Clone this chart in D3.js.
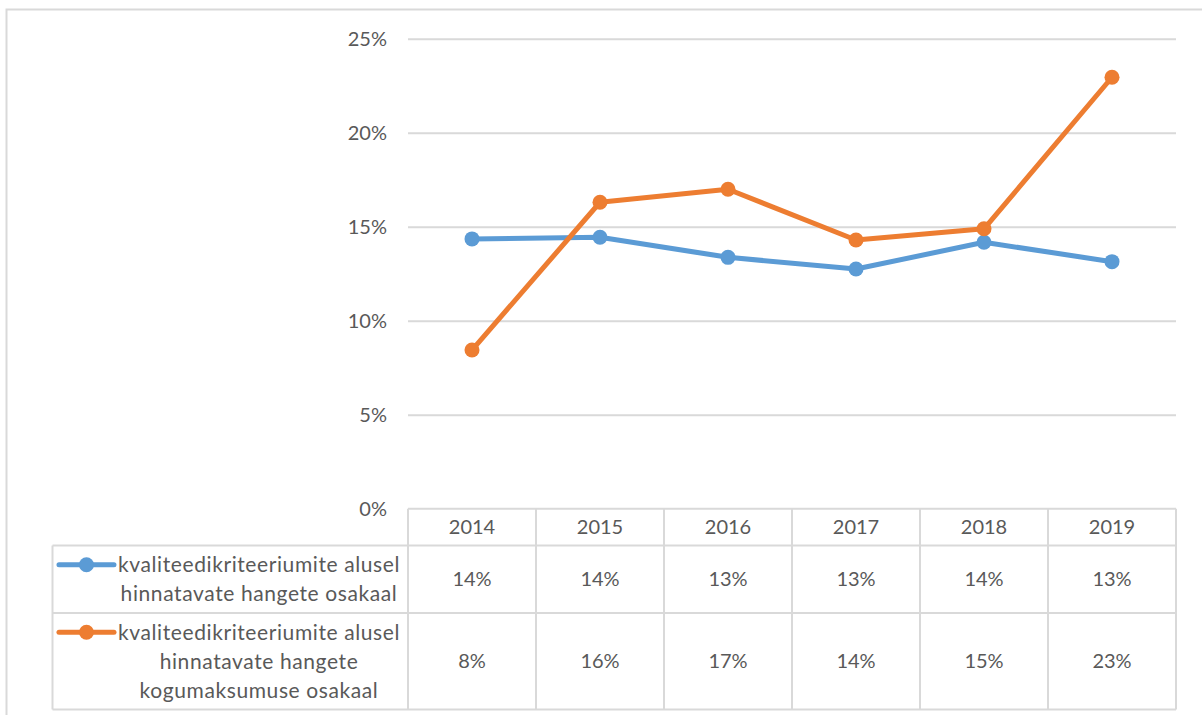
<!DOCTYPE html>
<html>
<head>
<meta charset="utf-8">
<script src="https://cdn.jsdelivr.net/npm/d3@7"></script>
<style>
  html, body { margin: 0; padding: 0; background: #fff; }
  svg { display: block; }
  text { font-family: Lato, "Open Sans", sans-serif; fill: #595959; }
</style>
</head>
<body>
<svg id="chart" width="1202" height="715"></svg>
<script>
// Years shown along the category axis and in the data table header
const years = ["2014", "2015", "2016", "2017", "2018", "2019"];

// Share of procurements evaluated on quality criteria
const shareByCount = [0.1435, 0.1444, 0.1337, 0.1275, 0.1417, 0.1314];
// Share of total procurement value evaluated on quality criteria
const shareByValue = [0.0844, 0.1630, 0.1699, 0.1429, 0.1489, 0.2295];

// Legend labels, one entry per wrapped line
const countLabel = ["kvaliteedikriteeriumite alusel", "hinnatavate hangete osakaal"];
const valueLabel = ["kvaliteedikriteeriumite alusel", "hinnatavate hangete", "kogumaksumuse osakaal"];

const yTicks = [0, 0.05, 0.10, 0.15, 0.20, 0.25];

const series = [
  { values: shareByCount, label: countLabel, color: "#5b9bd5" },
  { values: shareByValue, label: valueLabel, color: "#ed7d31" }
];

const svg = d3.select("#chart");
const gridColor = "#d9d9d9";
const pct = d3.format(".0%");
const numSize = 20;
const labelSize = 21;

// Plot area
const plot = { left: 408, right: 1176, top: 38.7, bottom: 508.7 };
const x = d3.scaleBand().domain(years).range([plot.left, plot.right]);
const y = d3.scaleLinear().domain([0, 0.25]).range([plot.bottom, plot.top]);

// Chart frame (top and left edges visible)
svg.append("path")
  .attr("d", "M6.5,715 V9.5 H1202")
  .attr("fill", "none")
  .attr("stroke", gridColor)
  .attr("stroke-width", 2);

// Horizontal gridlines and percentage labels
const yAxis = d3.axisLeft(y).tickValues(yTicks).tickFormat(pct)
  .tickSize(-(plot.right - plot.left)).tickPadding(21);
const yg = svg.append("g").attr("transform", `translate(${plot.left},0)`).call(yAxis);
yg.select(".domain").remove();
yg.selectAll(".tick line").attr("stroke", gridColor).attr("stroke-width", 2)
  .filter(d => d === 0).remove();
yg.selectAll(".tick text").attr("font-size", numSize).attr("fill", "#595959")
  .style("font-family", "Lato, sans-serif");

// Data table geometry
const table = { headerTop: plot.bottom, headerBottom: 545.5, rowBottoms: [613, 709.5], legendLeft: 52.5 };
const tg = svg.append("g").attr("fill", "none").attr("stroke", gridColor).attr("stroke-width", 2);

// Header row: year cells
tg.append("line").attr("x1", plot.left).attr("x2", plot.right)
  .attr("y1", table.headerTop).attr("y2", table.headerTop);
// Row separators spanning legend and value cells
[table.headerBottom, ...table.rowBottoms].forEach(yy => {
  tg.append("line").attr("x1", table.legendLeft).attr("x2", plot.right)
    .attr("y1", yy).attr("y2", yy);
});
// Vertical cell borders
const colEdges = years.map(d => x(d)).concat([plot.right]);
colEdges.forEach(xx => {
  tg.append("line").attr("x1", xx).attr("x2", xx)
    .attr("y1", table.headerTop).attr("y2", table.rowBottoms[1]);
});
tg.append("line").attr("x1", table.legendLeft).attr("x2", table.legendLeft)
  .attr("y1", table.headerBottom).attr("y2", table.rowBottoms[1]);

// Year header labels
svg.append("g").selectAll("text").data(years).join("text")
  .attr("x", d => x(d) + x.bandwidth() / 2)
  .attr("y", (table.headerTop + table.headerBottom) / 2)
  .attr("dy", "0.35em")
  .attr("text-anchor", "middle")
  .attr("font-size", numSize)
  .text(d => d);

// Value rows with legend keys
const rowTops = [table.headerBottom, table.rowBottoms[0]];
const lineGap = 29;
const labelCenterX = 259;
series.forEach((s, i) => {
  const top = rowTops[i], bottom = table.rowBottoms[i];
  const mid = (top + bottom) / 2;
  const g = svg.append("g");

  g.selectAll("text.val").data(s.values).join("text")
    .attr("class", "val")
    .attr("x", (d, j) => x(years[j]) + x.bandwidth() / 2)
    .attr("y", mid)
    .attr("dy", "0.35em")
    .attr("text-anchor", "middle")
    .attr("font-size", numSize)
    .text(d => pct(d));

  const firstY = mid - (s.label.length - 1) * lineGap / 2;
  const labels = g.selectAll("text.lab").data(s.label).join("text")
    .attr("class", "lab")
    .attr("x", labelCenterX)
    .attr("y", (d, j) => firstY + j * lineGap)
    .attr("dy", "0.35em")
    .attr("text-anchor", "middle")
    .attr("font-size", labelSize)
    .attr("letter-spacing", 0.6)
    .text(d => d);

  // legend key sits just left of the first label line
  const firstBox = labels.node().getBBox();
  const keyRight = firstBox.x - 4;
  g.append("line")
    .attr("x1", keyRight - 55).attr("x2", keyRight)
    .attr("y1", firstY).attr("y2", firstY)
    .attr("stroke", s.color).attr("stroke-width", 5).attr("stroke-linecap", "round");
  g.append("circle")
    .attr("cx", keyRight - 27.5).attr("cy", firstY).attr("r", 7.5)
    .attr("fill", s.color);
});

// Lines and markers
const line = d3.line()
  .x((d, j) => x(years[j]) + x.bandwidth() / 2)
  .y(d => y(d));

series.forEach(s => {
  const g = svg.append("g");
  g.append("path")
    .datum(s.values)
    .attr("d", line)
    .attr("fill", "none")
    .attr("stroke", s.color)
    .attr("stroke-width", 5)
    .attr("stroke-linejoin", "round")
    .attr("stroke-linecap", "round");
  g.selectAll("circle").data(s.values).join("circle")
    .attr("cx", (d, j) => x(years[j]) + x.bandwidth() / 2)
    .attr("cy", d => y(d))
    .attr("r", 7.5)
    .attr("fill", s.color);
});
</script>
</body>
</html>
